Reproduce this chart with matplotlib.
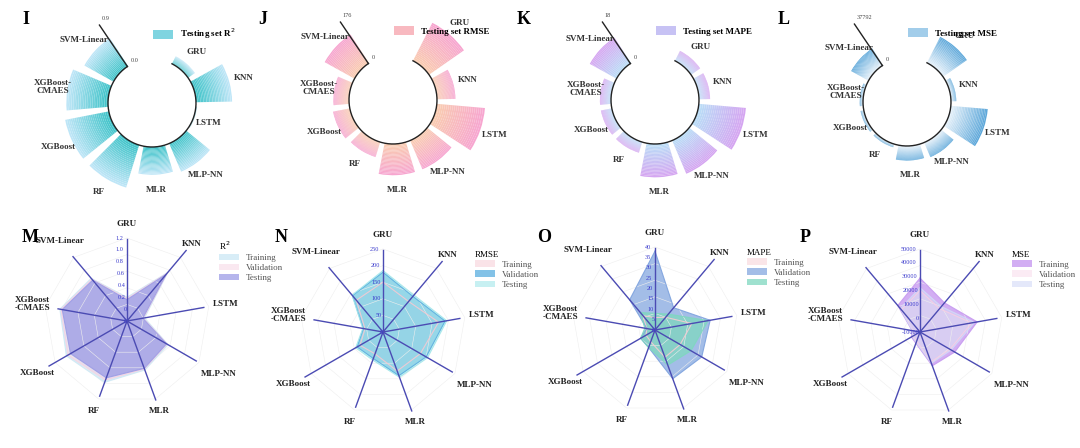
import numpy as np
import matplotlib
matplotlib.use("Agg")
import matplotlib.pyplot as plt
from matplotlib.patches import Patch
from matplotlib.colors import to_rgb

plt.rcParams['font.family'] = ['Liberation Serif', 'DejaVu Serif']

# ---------------- data ----------------
bar_models = ["SVM-Linear", "XGBoost-\nCMAES", "XGBoost", "RF", "MLR", "MLP-NN", "LSTM", "KNN", "GRU"]
test_r2 = [0.60, 0.75, 0.80, 0.80, 0.50, 0.55, 0.02, 0.65, 0.15]
test_rmse = [120, 55, 60, 55, 110, 110, 170, 65, 150]
test_mape = [11, 4, 4, 4, 12, 13, 17, 4, 4]
test_mse = [15000, 2500, 2500, 2500, 11000, 12000, 28000, 4000, 22000]
bar_max = [0.9, 176, 18, 37792]
bar_max_labels = ["0.9", "176", "18", "37792"]
bar_zero_labels = ["0.0", "0", "0", "0"]

radar_models = ["GRU", "KNN", "LSTM", "MLP-NN", "MLR", "RF", "XGBoost", "XGBoost\n-CMAES", "SVM-Linear"]
r2_train = [0.20, 0.87, 0.10, 0.60, 0.68, 0.90, 0.98, 0.95, 0.74]
r2_val = [0.18, 0.85, 0.08, 0.58, 0.66, 0.86, 0.95, 0.93, 0.72]
r2_test = [0.16, 0.83, 0.07, 0.57, 0.65, 0.82, 0.90, 0.91, 0.70]
r2_ticks = [-0.2, 0.0, 0.2, 0.4, 0.6, 0.8, 1.0, 1.2]
rmse_train = [150, 120, 170, 130, 125, 70, 80, 55, 125]
rmse_val = [180, 140, 190, 150, 140, 85, 90, 60, 143]
rmse_test = [185, 145, 195, 155, 145, 90, 95, 62, 145]
rmse_ticks = [0, 50, 100, 150, 200, 250]
mape_train = [6, 8, 18, 14, 14, 6, 5, 4, 9]
mape_val = [38, 14, 27, 26, 25, 9, 8, 4, 19]
mape_test = [8, 10, 26, 20, 18, 9, 8, 5, 11]
mape_ticks = [0, 5, 10, 15, 20, 25, 30, 35, 40]
mse_train = [29000, 17500, 32000, 19000, 16000, -1300, -2800, -4200, 15000]
mse_val = [20000, 12000, 28000, 15000, 13000, -3000, -4000, -5000, 11000]
mse_test = [22000, 14000, 30000, 16000, 14000, -2000, -3500, -4500, 12000]
mse_ticks = [-10000, 0, 10000, 20000, 30000, 40000, 50000]

W, H = 1080, 448
fig = plt.figure(figsize=(W / 100, H / 100), dpi=100)

def add_ax(cx, cy, half, polar=True):
    return fig.add_axes([(cx - half) / W, 1 - (cy + half) / H, 2 * half / W, 2 * half / H],
                        projection='polar' if polar else None)

# ---------------- top row: circular bars ----------------
top_centers = [(152, 103), (393, 100), (655, 100), (907, 102)]
top_letters = ["I", "J", "K", "L"]
letter_top = [(22, 20), (258, 20), (517, 20), (778, 20)]
top_vals = [test_r2, test_rmse, test_mape, test_mse]
top_names = ["Testing set R$^2$", "Testing set RMSE", "Testing set MAPE", "Testing set MSE"]
grad = [("#3fc3c9", "#bfe6f7"), ("#f9ccb0", "#f7a6d0"), ("#b9ddf7", "#d5a6f1"), ("#e6f1fa", "#5ea8da")]
base, span, half = 44.0, 50.0, 115
angles_deg = 137 + 34 * np.arange(len(bar_models))
axis_deg = 124

for k in range(4):
    cx, cy = top_centers[k]
    ax = add_ax(cx, cy, half)
    ax.set_ylim(0, half)
    ax.set_axis_off()
    th = np.deg2rad(angles_deg)
    c0, c1 = np.array(to_rgb(grad[k][0])), np.array(to_rgb(grad[k][1]))
    n = 24
    for t, v, name in zip(th, top_vals[k], bar_models):
        L = v / bar_max[k] * span
        for i in range(n):
            f = i / (n - 1)
            ax.bar(t, L / n, bottom=base + L * i / n, width=np.deg2rad(28),
                   color=c0 * (1 - f) + c1 * f, edgecolor='none', linewidth=0)
        r_lab = base + L + 15
        ax.text(t, r_lab, name, ha='center', va='center', fontsize=6.5, fontweight='bold',
                color='#333333', linespacing=1.0)
    arc = np.deg2rad(np.linspace(axis_deg, angles_deg[-1] + 14, 200))
    ax.plot(arc, np.full_like(arc, base), color='#222222', lw=1.0)
    ta = np.deg2rad(axis_deg)
    ax.plot([ta, ta], [base, base + span], color='#222222', lw=1.0)
    ax.text(ta - 0.1, base + 1, bar_zero_labels[k], fontsize=4.5, color='#444444', ha='left', va='bottom')
    ax.text(ta - 0.04, base + span + 2, bar_max_labels[k], fontsize=4.5, color='#444444', ha='left', va='bottom')
    fig.text(letter_top[k][0] / W, 1 - letter_top[k][1] / H, top_letters[k], fontsize=13,
             fontweight='bold', va='center')
    mid = tuple(0.5 * (c0 + c1))
    ax.legend(handles=[Patch(facecolor=mid, edgecolor='none', label=top_names[k])],
              loc='center left', bbox_to_anchor=(0.47, 0.8), frameon=False,
              handlelength=2.2, handleheight=1.2, prop={'weight': 'bold', 'size': 6.5})

# ---------------- bottom row: radar ----------------
bot_centers = [(127, 321), (383, 332), (655, 330), (920, 332)]
bot_letters = ["M", "N", "O", "P"]
letter_bot = [(22, 237), (275, 237), (537, 237), (800, 237)]
series = [(r2_train, r2_val, r2_test), (rmse_train, rmse_val, rmse_test),
          (mape_train, mape_val, mape_test), (mse_train, mse_val, mse_test)]
ticks = [r2_ticks, rmse_ticks, mape_ticks, mse_ticks]
tick_fmt = [lambda v: f"{v:.1f}" if v > 0 else "0", lambda v: f"{v:g}", lambda v: f"{v:g}", lambda v: f"{v:g}"]
titles = ["R$^2$", "RMSE", "MAPE", "MSE"]
colors = [("#cfe9f5", "#f7d3e3", "#9c9ce6"), ("#f6c9d2", "#5aaee0", "#a3e6ea"),
          ("#f6ccd3", "#7da2de", "#7fd8bf"), ("#c79af0", "#f7cfe4", "#d3daf7")]
alphas = [(0.8, 0.5, 0.75), (0.5, 0.75, 0.6), (0.5, 0.7, 0.75), (0.8, 0.4, 0.6)]
spoke_px = [82, 92, 78, 80, 84, 80, 90, 70, 84]
label_px = [97, 100, 100, 106, 96, 96, 104, 96, 104]
rhalf, top_px = 140, 83
nax = len(radar_models)
th = np.linspace(0, 2 * np.pi, nax, endpoint=False)
thc = np.append(th, th[0])

for k in range(4):
    cx, cy = bot_centers[k]
    ax = add_ax(cx, cy, rhalf)
    ax.set_theta_zero_location('N')
    ax.set_theta_direction(-1)
    vmin, vmax = ticks[k][0], ticks[k][-1]
    scale = (vmax - vmin) / top_px
    ax.set_ylim(vmin, vmin + rhalf * scale)
    ax.set_axis_off()
    for g in range(1, 6):
        rr = vmin + g * top_px / 5 * scale
        ax.plot(thc, np.full_like(thc, rr), color='#eeeeee', lw=0.4)
    for s in range(3):
        d = np.append(series[k][s], series[k][s][0])
        ax.fill(thc, d, color=colors[k][s], alpha=alphas[k][s], lw=0)
        ax.plot(thc, d, color=colors[k][s], lw=0.8, alpha=0.9)
    for t, sp in zip(th, spoke_px):
        ax.plot([t, t], [vmin, vmin + sp * scale], color='#4b4bb3', lw=1.0)
    for tv in ticks[k]:
        ax.text(-0.05, tv, tick_fmt[k](tv), fontsize=4.5, color='#3a3acc', ha='right', va='center')
    for t, name, lp in zip(th, radar_models, label_px):
        ax.text(t, vmin + lp * scale, name, ha='center', va='center', fontsize=6.5, fontweight='bold',
                color='#222222', linespacing=1.0)
    fig.text(letter_bot[k][0] / W, 1 - letter_bot[k][1] / H, bot_letters[k], fontsize=13,
             fontweight='bold', va='center')
    handles = [Patch(facecolor=colors[k][s], alpha=alphas[k][s], edgecolor='none', label=l)
               for s, l in enumerate(["Training", "Validation", "Testing"])]
    ax.legend(handles=handles, title=titles[k], loc='upper left', bbox_to_anchor=(0.80, 0.82),
              frameon=False, fontsize=6.5, title_fontsize=6.5, handlelength=2.2,
              labelspacing=0.2, alignment='left', labelcolor='#555555')

fig.savefig("out.png", dpi=100, facecolor='white')
